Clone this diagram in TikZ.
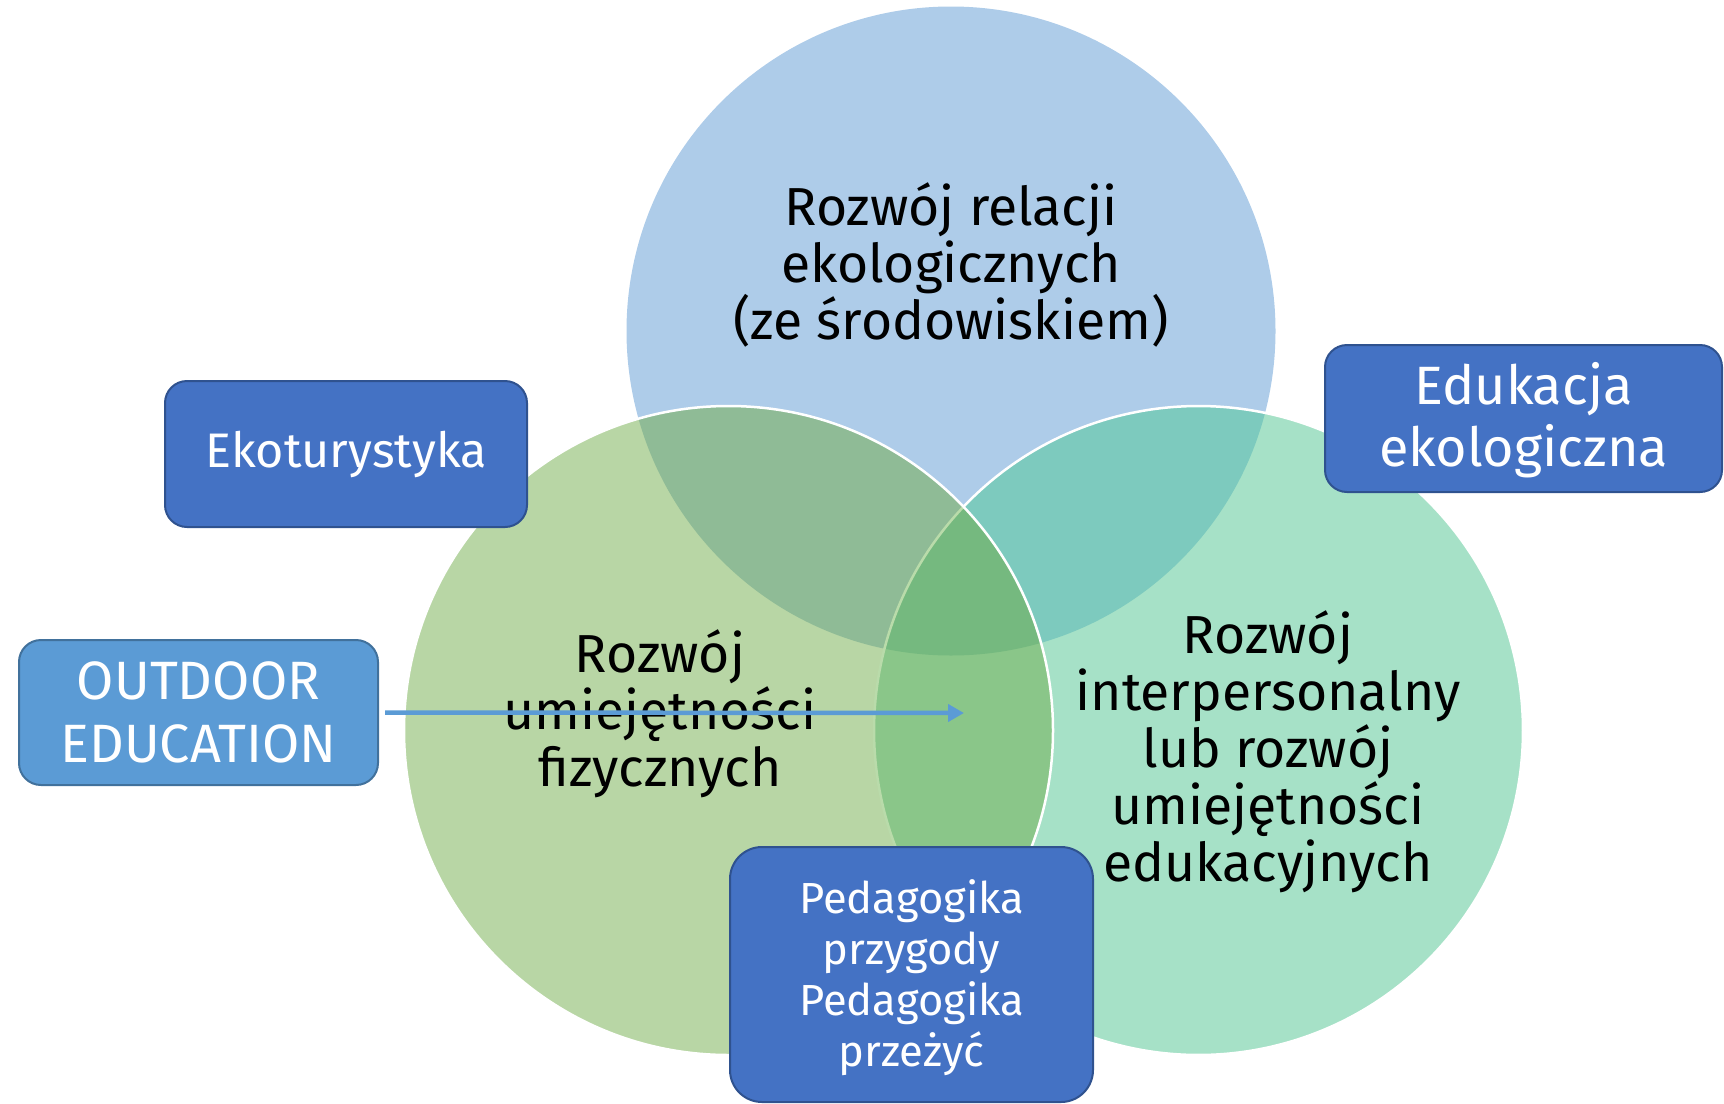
\documentclass[tikz,border=0pt]{standalone}
\usepackage{fontspec}
\setmainfont{Fira Sans}
\usetikzlibrary{arrows.meta}
\definecolor{topc}{HTML}{AECCE9}
\definecolor{leftc}{HTML}{B8D6A5}
\definecolor{rightc}{HTML}{A6E1C7}
\definecolor{tlc}{HTML}{8FBB96}
\definecolor{trc}{HTML}{7DCABE}
\definecolor{lrc}{HTML}{8AC689}
\definecolor{midc}{HTML}{75B97F}
\definecolor{faintc}{HTML}{B9DBAA}
\definecolor{boxfill}{HTML}{4472C4}
\definecolor{boxline}{HTML}{2F528F}
\definecolor{lboxfill}{HTML}{5B9BD5}
\definecolor{lboxline}{HTML}{41719C}
\definecolor{arrowc}{HTML}{5B9BD5}
\begin{document}
\begin{tikzpicture}[x=1pt,y=-1pt,
  bluebox/.style={draw=boxline, fill=boxfill, line width=2pt, rounded corners=22pt,
    text=white, align=center, inner sep=0pt},
  lightbox/.style={bluebox, draw=lboxline, fill=lboxfill},
  boxlabel/.style={text=white, align=center, inner sep=0pt},
  circtext/.style={align=center, text=black, inner sep=0pt, font=\fontsize{53.5pt}{57pt}\selectfont},
  ring/.style={line width=2.5pt}
  ]
\useasboundingbox (0,0) rectangle (1724,1103);
\def\rad{324.5}
\coordinate (T) at (951,331);
\coordinate (L) at (728.5,730.5);
\coordinate (R) at (1198.5,730.5);
% circle fills
\fill[topc] (T) circle[radius=\rad];
\fill[rightc] (R) circle[radius=\rad];
\fill[leftc] (L) circle[radius=\rad];
\begin{scope}
  \clip (T) circle[radius=\rad];
  \fill[trc] (R) circle[radius=\rad];
  \fill[tlc] (L) circle[radius=\rad];
\end{scope}
\begin{scope}
  \clip (L) circle[radius=\rad];
  \fill[lrc] (R) circle[radius=\rad];
  \clip (T) circle[radius=\rad];
  \fill[midc] (R) circle[radius=\rad];
\end{scope}
% outlines
\draw[ring, white] (R) ++(-136.41:\rad) arc[start angle=-136.41, end angle=136.41, radius=\rad];
\draw[ring, faintc] (R) ++(136.41:\rad) arc[start angle=136.41, end angle=223.59, radius=\rad];
\draw[ring, white] (L) circle[radius=\rad];
% circle texts
\node[circtext] (ttop) at (951,265) {Rozwój relacji\\ekologicznych\\(ze środowiskiem)};
\node[circtext] (tleft) at (660,714) {Rozwój\\umiejętności\\fizycznych};
\node[circtext] (tright) at (1268,752) {Rozwój\\interpersonalny\\lub rozwój\\umiejętności\\edukacyjnych};
% boxes
\node[bluebox, minimum width=362pt, minimum height=146pt, font=\fontsize{48.5pt}{57pt}\selectfont]
  (eko) at (346,454) {Ekoturystyka};
\node[lightbox, minimum width=359pt, minimum height=145pt, font=\fontsize{54pt}{63pt}\selectfont]
  (out) at (198.5,712.5) {OUTDOOR\\EDUCATION};
\node[bluebox, minimum width=397pt, minimum height=147pt,
  label={[boxlabel, yshift=-2pt, font=\fontsize{54pt}{62pt}\selectfont]center:Edukacja\\ekologiczna}]
  (edu) at (1523.5,418.5) {};
\node[bluebox, rounded corners=32pt, minimum width=363pt, minimum height=255pt,
  label={[boxlabel, yshift=-3.5pt, font=\fontsize{43.5pt}{51pt}\selectfont]center:Pedagogika\\przygody\\Pedagogika\\przeżyć}]
  (ped) at (911.5,974.5) {};
% arrow
\coordinate (tip) at (964,713);
\draw[arrowc, line width=4.5pt, -{Triangle[length=16pt,width=17pt]}] ([xshift=6pt]out.east) -- (tip);
\end{tikzpicture}
\end{document}
